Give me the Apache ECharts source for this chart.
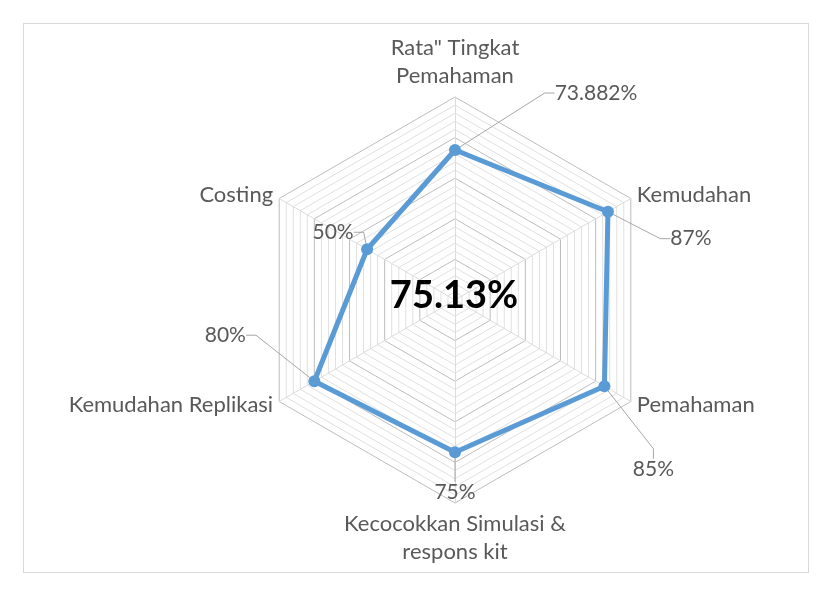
<!DOCTYPE html>
<html>
<head>
<meta charset="utf-8">
<script src="https://cdn.jsdelivr.net/npm/echarts@6/dist/echarts.min.js"></script>
<style>
  html, body { margin: 0; padding: 0; background: #fff; }
  #frame { position: absolute; left: 23px; top: 23px; width: 784px; height: 548px; border: 1px solid #d9d9d9; }
  #chart { position: absolute; left: 0; top: 0; width: 825px; height: 590px; }
</style>
</head>
<body>
<div id="frame"></div>
<div id="chart"></div>
<script>
// categories, clockwise from the top
const categories = ['Rata" Tingkat\nPemahaman', 'Kemudahan', 'Pemahaman',
  'Kecocokkan Simulasi &\nrespons kit', 'Kemudahan Replikasi', 'Costing'];
const values = [73.882, 87, 85, 75, 80, 50];
const centerText = '75.13%';
const axisMax = 100;

// label offsets from each point (dx, dy), same order as categories
const labelOffsets = [[141, -57], [83, 27], [49, 83], [0, 40], [-89, -46], [-34, -17]];

// echarts radar goes counter-clockwise, so flip the order after the first axis
const order = categories.map((_, i) => (categories.length - i) % categories.length);
const labelText = v => v + '%';

const chart = echarts.init(document.getElementById('chart'));
const font = 'Lato, "Open Sans", sans-serif';

chart.setOption({
  animation: false,
  backgroundColor: 'transparent',
  graphic: [{
    type: 'text', x: 454, y: 296, z: 100,
    style: {
      text: centerText, fill: '#000', fontSize: 38, fontWeight: 'bold', fontFamily: font,
      textAlign: 'center', textVerticalAlign: 'middle'
    }
  }],
  radar: {
    center: [455, 300],
    radius: 203,
    startAngle: 90,
    splitNumber: 25,
    shape: 'polygon',
    indicator: order.map(i => ({ name: categories[i], min: 0, max: axisMax })),
    axisName: { color: '#595959', fontSize: 22, fontFamily: font, lineHeight: 28 },
    nameGap: 7,
    axisLine: { lineStyle: { color: '#dcdcdc', width: 1 } },
    splitLine: { lineStyle: { color: ['#bdbdbd', '#e0e0e0', '#e0e0e0', '#e0e0e0', '#e0e0e0'], width: 1 } },
    splitArea: { show: false },
    axisTick: { show: false },
    axisLabel: { show: false }
  },
  series: [{
    type: 'radar',
    symbol: 'circle',
    symbolSize: 12,
    lineStyle: { color: '#5b9bd5', width: 5 },
    itemStyle: { color: '#5b9bd5' },
    label: {
      show: true,
      position: 'inside',
      color: '#595959',
      fontSize: 21,
      fontFamily: font,
      formatter: p => labelText(p.value)
    },
    labelLine: { show: true, length2: 10, lineStyle: { color: '#a6a6a6', width: 1 } },
    labelLayout: function (p) {
      const idx = values.findIndex(v => labelText(v) === p.text);
      const off = labelOffsets[idx] || [0, 0];
      return { dx: off[0], dy: off[1] };
    },
    data: [{ value: order.map(i => values[i]), name: 'Nilai' }]
  }]
});
</script>
</body>
</html>
